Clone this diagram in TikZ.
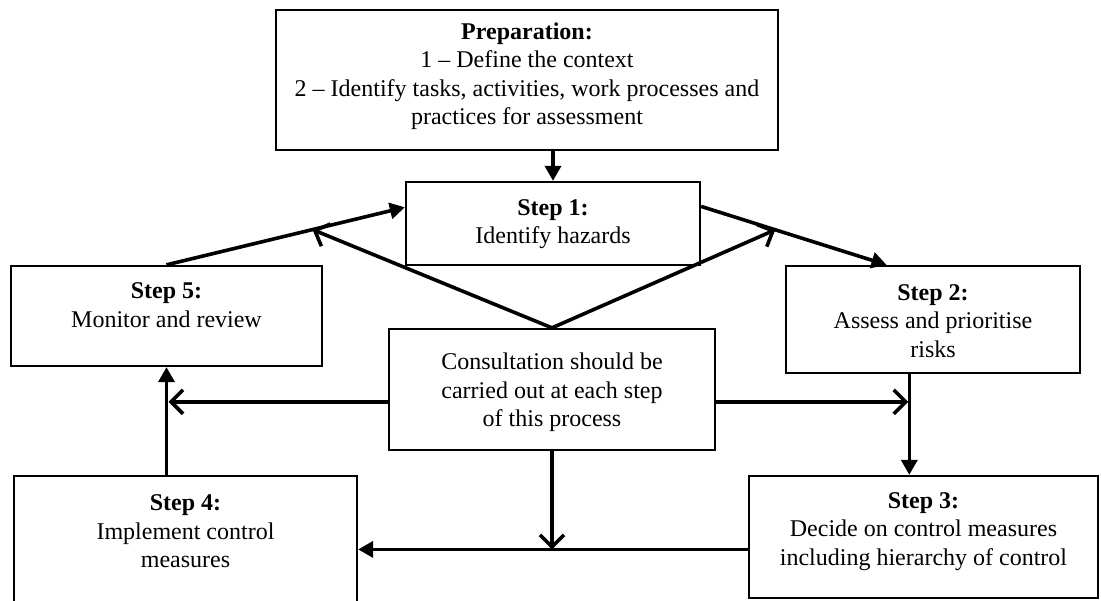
\documentclass[tikz,border=0pt]{standalone}
\usepackage{fontspec}
\setmainfont{Liberation Serif}
\usetikzlibrary{arrows.meta,calc}
\begin{document}
\begin{tikzpicture}[x=1pt,y=-1pt,
  boxn/.style={draw, line width=2.3pt, inner sep=0pt},
  lbl/.style={align=center, font=\fontsize{24}{28.5}\selectfont, inner sep=0pt},
  farr/.style={line width=3.6pt, -{Triangle[length=15pt,width=16pt]}},
  oarr/.style={line width=3.6pt, -{Straight Barb[length=12pt,width=24pt,line width=3.6pt]}}
]
\useasboundingbox (0,0) rectangle (1101,601);
% boxes
\node[boxn, minimum width=502pt, minimum height=140pt] (prep) at (527,80) {};
\node[boxn, minimum width=294pt, minimum height=83pt] (s1) at (553,223.5) {};
\node[boxn, minimum width=311pt, minimum height=100pt] (s5) at (166.5,316) {};
\node[boxn, minimum width=294pt, minimum height=107pt] (s2) at (933,319.5) {};
\node[boxn, minimum width=326pt, minimum height=121pt] (c) at (552,389.5) {};
\node[boxn, minimum width=343pt, minimum height=140pt] (s4) at (185.5,546) {};
\node[boxn, minimum width=349pt, minimum height=122pt] (s3) at (923.5,537) {};
% texts
\node[lbl] (tprep) at (527,76) {\textbf{Preparation:}\\1 -- Define the context\\2 -- Identify tasks, activities, work processes and\\practices for assessment};
\node[lbl] (ts1) at (553,224) {\textbf{Step 1:}\\Identify hazards};
\node[lbl] (ts5) at (166.5,305) {\textbf{Step 5:}\\Monitor and review};
\node[lbl] (ts2) at (933,321) {\textbf{Step 2:}\\Assess and prioritise\\risks};
\node[lbl] (tc) at (552,392.5) {Consultation should be\\carried out at each step\\of this process};
\node[lbl] (ts4) at (185.5,531.5) {\textbf{Step 4:}\\Implement control\\measures};
\node[lbl] (ts3) at (923.5,531.5) {\textbf{Step 3:}\\Decide on control measures\\including hierarchy of control};
% helper coordinates
\coordinate (s1l) at ($(s1.north west)!0.31!(s1.south west)$);
\coordinate (s1r) at ($(s1.north east)!0.3!(s1.south east)$);
\coordinate (s2t) at ($(s2.north west)!0.343!(s2.north east)$);
\coordinate (s2b) at ($(s2.south west)!0.42!(s2.south east)$);
\coordinate (cl) at ($(s5.north)!0.6125!(s1l)$);
\coordinate (cr) at ($(s1r)!0.40!(s2t)$);
\coordinate (cw) at ($(c.north west)!0.6!(c.south west)$);
\coordinate (ce) at ($(c.north east)!0.6!(c.south east)$);
\coordinate (s3l) at ($(s3.north west)!0.6!(s3.south west)$);
% connectors
\draw[farr] (s1.north |- prep.south) -- (s1.north);
\draw[farr] (s5.north) -- (s1l);
\draw[farr] (s1r) -- (s2t);
\draw[oarr] (c.north) -- (cl);
\draw[oarr] (c.north) -- (cr);
\draw[farr] (s5.south |- s4.north) -- (s5.south);
\draw[oarr] (cw) -- ($(s5.south |- cw)+(2,0)$);
\draw[farr] (s2b) -- (s2b |- s3.north);
\draw[oarr] (ce) -- ($(s2b |- ce)+(-1,0)$);
\draw[oarr] (c.south) -- (c.south |- s3l);
\draw[farr] (s3l) -- (s4.east |- s3l);
\end{tikzpicture}
\end{document}
